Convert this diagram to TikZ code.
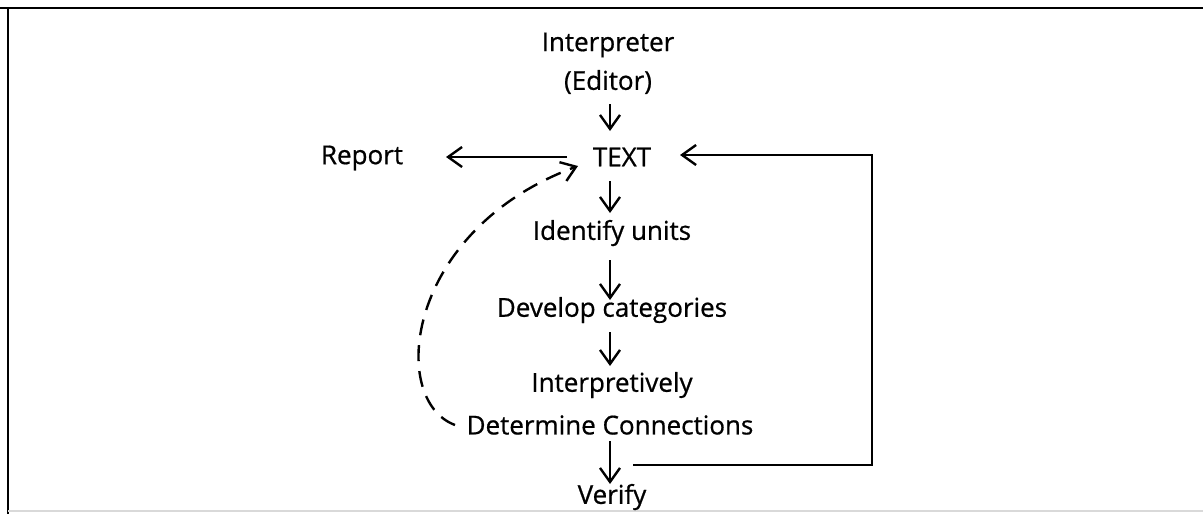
\documentclass[tikz,border=0pt]{standalone}
\usepackage{fontspec}
\setmainfont{Open Sans}
\newfontfamily\lblfont[BoldFont={Open Sans},BoldFeatures={FakeBold=0.7}]{Open Sans}
\usetikzlibrary{arrows.meta}
\begin{document}
\begin{tikzpicture}[x=0.5pt,y=-0.5pt,
  lbl/.style={inner sep=1pt,font=\lblfont\fontsize{13}{15}\selectfont\bfseries},
  flow/.style={line width=1.2pt,-{Straight Barb[length=7pt,width=10pt,line width=1.2pt]}},
  frameline/.style={line width=1.2pt}]
\useasboundingbox (0,0) rectangle (1203,514);
% frame
\draw[frameline] (0,8) -- (1203,8);
\draw[frameline] (8,8) -- (8,514);
\draw[line width=0.6pt,black!15] (8,511) -- (1203,511);
% nodes
\node[lbl] (interp) at (608,45) {Interpreter};
\node[lbl] (editor) at (608,82) {(Editor)};
\node[lbl] (text) at (622,157) {TEXT};
\node[lbl] (report) at (362,158) {Report};
\node[lbl] (ident) at (612,233) {Identify units};
\node[lbl] (develop) at (612,310) {Develop categories};
\node[lbl] (interpr) at (612,385) {Interpretively};
\node[lbl] (determ) at (610,425) {Determine Connections};
\node[lbl] (verify) at (612,497) {Verify};
% coordinates
\coordinate (e1) at (610,104);
\coordinate (e2) at (610,131);
\coordinate (t1) at (567,157);
\coordinate (r1) at (446,157);
\coordinate (t2) at (610,181);
\coordinate (i1) at (610,213);
\coordinate (i2) at (610,260);
\coordinate (d1) at (610,300);
\coordinate (d2) at (610,332);
\coordinate (p1) at (610,366);
\coordinate (c1) at (610,441);
\coordinate (v1) at (610,484);
\coordinate (lb) at (633,465);
\coordinate (rb) at (872,465);
\coordinate (rt) at (872,155);
\coordinate (tr) at (680,155);
\coordinate (ds) at (455,425);
\coordinate (de) at (578,166);
% connectors
\draw[flow] (e1) -- (e2);
\draw[flow] (t1) -- (r1);
\draw[flow] (t2) -- (i1);
\draw[flow] (i2) -- (d1);
\draw[flow] (d2) -- (p1);
\draw[flow] (c1) -- (v1);
\draw[flow] (lb) -- (rb) -- (rt) -- (tr);
\draw[flow,dash pattern=on 8pt off 5pt] (ds) .. controls (388,400) and (405,230) .. (de);
\end{tikzpicture}
\end{document}
